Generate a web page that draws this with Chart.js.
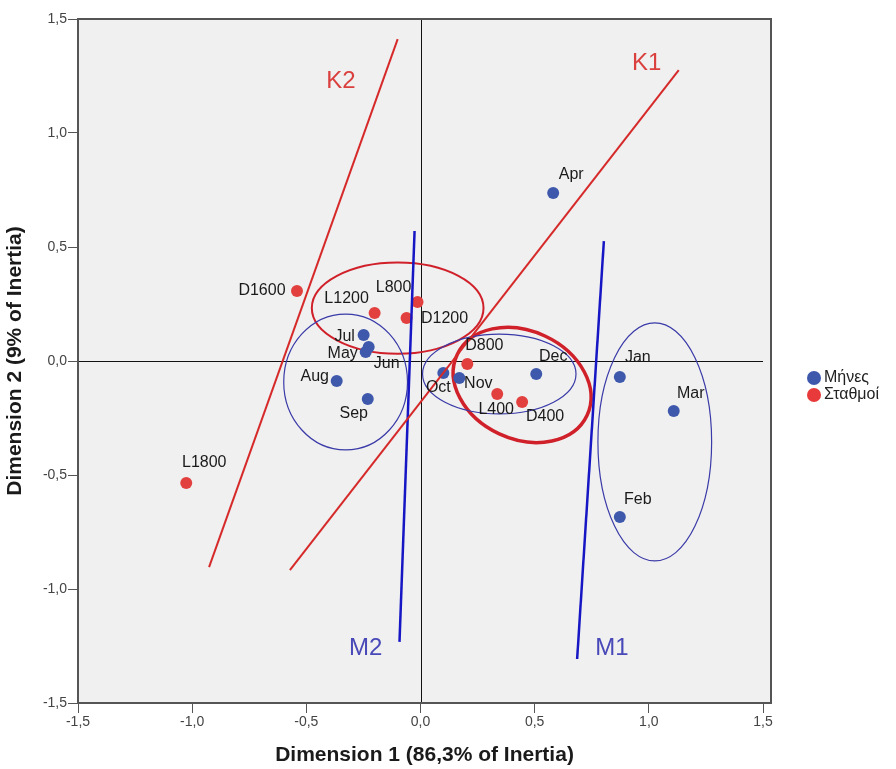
<!DOCTYPE html>
<html>
<head>
<meta charset="utf-8">
<script src="https://cdn.jsdelivr.net/npm/chart.js@4.4.1/dist/chart.umd.min.js"></script>
<style>
  html, body { margin: 0; padding: 0; background: #fff; }
  canvas { display: block; }
</style>
</head>
<body>
<canvas id="caChart" width="896" height="769"></canvas>
<script>
// Months (blue points)
const monthNames = ['Apr', 'Jan', 'Mar', 'Feb', 'Dec', 'Nov', 'Oct', 'Jul', 'Jun', 'May', 'Aug', 'Sep'];
const monthX = [0.581, 0.873, 1.109, 0.873, 0.507, 0.170, 0.100, -0.249, -0.227, -0.240, -0.367, -0.231];
const monthY = [0.737, -0.070, -0.219, -0.684, -0.057, -0.075, -0.053, 0.114, 0.061, 0.039, -0.088, -0.167];

// Stations (red points)
const stationNames = ['D1600', 'L1200', 'L800', 'D1200', 'D800', 'L400', 'D400', 'L1800'];
const stationX = [-0.541, -0.201, -0.013, -0.061, 0.205, 0.336, 0.445, -1.026];
const stationY = [0.307, 0.211, 0.259, 0.189, -0.013, -0.145, -0.180, -0.535];

// Hand drawn lines K1, K2, M1, M2 (start and end)
const lineNames = ['K1', 'K2', 'M1', 'M2'];
const lineX = [[-0.572, 1.131], [-0.926, -0.100], [0.686, 0.803], [-0.092, -0.026]];
const lineY = [[-0.917, 1.276], [-0.904, 1.412], [-1.307, 0.526], [-1.232, 0.570]];
const lineLabelX = [0.991, -0.349, 0.838, -0.240];
const lineLabelY = [1.307, 1.228, -1.259, -1.259];

// Ellipses: centre, semi-axes, tilt (degrees)
const ellipseCX = [-0.100, 0.445, -0.328, 0.345, 1.026];
const ellipseCY = [0.232, -0.105, -0.092, -0.057, -0.355];
const ellipseRX = [0.376, 0.314, 0.271, 0.336, 0.249];
const ellipseRY = [0.200, 0.237, 0.298, 0.175, 0.522];
const ellipseTilt = [0, 25, 0, 0, 0];

// Axis ticks
const tickValues = [-1.5, -1.0, -0.5, 0.0, 0.5, 1.0, 1.5];
const tickLabels = ['-1,5', '-1,0', '-0,5', '0,0', '0,5', '1,0', '1,5'];

// styling (not data)
const BLUE = '#3e58ac';
const RED = '#e2403e';
const FONT = '"Liberation Sans", Arial, sans-serif';
const monthOffsets = [[18, -18], [18, -19], [17, -17], [18, -17], [17, -17], [19, 5], [-5, 15], [-19, 2], [18, 17], [-23, 1], [-22, -4], [-14, 15]];
const stationOffsets = [[-35, 0], [-28, -14], [-24, -14], [38, 1], [17, -18], [-1, 16], [23, 15], [18, -20]];
const lineColors = ['#d62a2a', '#d62a2a', '#1616c4', '#1616c4'];
const lineLabelColors = ['#d9403e', '#d9403e', '#4848b8', '#4848b8'];
const ellipseColors = ['#d0202a', '#d0202a', '#3a3aa8', '#3a3aa8', '#3a3aa8'];
const ellipseWidths = [2, 3.5, 1.2, 1.2, 1.2];

const toPoints = (xs, ys) => xs.map((x, i) => ({ x: x, y: ys[i] }));

const lineDatasets = lineNames.map((name, i) => ({
    type: 'line',
    label: name,
    data: toPoints(lineX[i], lineY[i]),
    borderColor: lineColors[i],
    borderWidth: i < 2 ? 2 : 2.5,
    pointRadius: 0,
    showLine: true,
    fill: false
}));

const pointDatasets = [
    {
        label: 'Μήνες',
        data: toPoints(monthX, monthY),
        backgroundColor: BLUE,
        borderWidth: 0,
        pointRadius: 6,
        names: monthNames,
        offsets: monthOffsets
    },
    {
        label: 'Σταθμοί',
        data: toPoints(stationX, stationY),
        backgroundColor: RED,
        borderWidth: 0,
        pointRadius: 6,
        names: stationNames,
        offsets: stationOffsets
    }
];

// background, zero lines and ellipses
const plotDecor = {
    id: 'plotDecor',
    beforeDatasetsDraw(chart) {
        const { ctx, chartArea: a, scales: { x, y } } = chart;
        ctx.save();
        ctx.fillStyle = '#f0f0f0';
        ctx.fillRect(a.left, a.top, a.right - a.left, a.bottom - a.top);

        ctx.strokeStyle = '#111';
        ctx.lineWidth = 1;
        ctx.beginPath();
        const x0 = Math.round(x.getPixelForValue(0)) + 0.5;
        const y0 = Math.round(y.getPixelForValue(0)) + 0.5;
        ctx.moveTo(x0, a.top);
        ctx.lineTo(x0, a.bottom);
        ctx.moveTo(a.left, y0);
        ctx.lineTo(x.getPixelForValue(1.5), y0);
        ctx.stroke();

        ctx.beginPath();
        ctx.rect(a.left, a.top, a.right - a.left, a.bottom - a.top);
        ctx.clip();
        ellipseCX.forEach((cx, i) => {
            const px = x.getPixelForValue(cx);
            const py = y.getPixelForValue(ellipseCY[i]);
            const rx = x.getPixelForValue(ellipseRX[i]) - x.getPixelForValue(0);
            const ry = y.getPixelForValue(0) - y.getPixelForValue(ellipseRY[i]);
            ctx.beginPath();
            ctx.ellipse(px, py, rx, ry, ellipseTilt[i] * Math.PI / 180, 0, Math.PI * 2);
            ctx.strokeStyle = ellipseColors[i];
            ctx.lineWidth = ellipseWidths[i];
            ctx.stroke();
        });
        ctx.restore();
    },
    afterDatasetsDraw(chart) {
        const { ctx, chartArea: a, scales: { x, y } } = chart;
        ctx.save();
        // point labels
        ctx.font = '16px ' + FONT;
        ctx.fillStyle = '#1a1a1a';
        ctx.textAlign = 'center';
        ctx.textBaseline = 'middle';
        chart.data.datasets.forEach((ds, di) => {
            if (!ds.names) return;
            chart.getDatasetMeta(di).data.forEach((el, i) => {
                ctx.fillText(ds.names[i], el.x + ds.offsets[i][0], el.y + ds.offsets[i][1]);
            });
        });
        // K / M labels
        ctx.font = '24px ' + FONT;
        lineNames.forEach((name, i) => {
            ctx.fillStyle = lineLabelColors[i];
            ctx.fillText(name, x.getPixelForValue(lineLabelX[i]), y.getPixelForValue(lineLabelY[i]));
        });
        // frame
        ctx.strokeStyle = '#555';
        ctx.lineWidth = 2;
        ctx.strokeRect(a.left, a.top, a.right - a.left, a.bottom - a.top);

        // legend
        ctx.textAlign = 'left';
        ctx.font = '16px ' + FONT;
        pointDatasets.forEach((ds, i) => {
            const cy = 378 + i * 17;
            ctx.beginPath();
            ctx.arc(814, cy, 7, 0, Math.PI * 2);
            ctx.fillStyle = i === 0 ? BLUE : '#e83a3a';
            ctx.fill();
            ctx.fillStyle = '#222';
            ctx.fillText(ds.label, 824, cy);
        });
        ctx.restore();
    }
};

const axisCommon = {
    type: 'linear',
    afterBuildTicks: scale => { scale.ticks = tickValues.map(v => ({ value: v })); },
    ticks: {
        callback: v => tickLabels[tickValues.indexOf(v)],
        color: '#444',
        font: { family: FONT, size: 14 },
        autoSkip: false,
        maxRotation: 0
    },
    grid: { drawOnChartArea: false, tickLength: 10, color: '#555', tickWidth: 1 },
    border: { display: true, color: '#555', width: 2 }
};

new Chart(document.getElementById('caChart'), {
    type: 'scatter',
    data: { datasets: [...lineDatasets, ...pointDatasets] },
    options: {
        responsive: false,
        animation: false,
        devicePixelRatio: 1,
        layout: { padding: { top: 19, right: 125, left: 0, bottom: 0 } },
        events: [],
        plugins: {
            legend: { display: false },
            tooltip: { enabled: false }
        },
        scales: {
            x: {
                ...axisCommon,
                min: -1.5,
                max: 1.535,
                ticks: { ...axisCommon.ticks, padding: 1 },
                afterFit: scale => { scale.height = 66; },
                title: {
                    display: true,
                    text: 'Dimension 1 (86,3% of Inertia)',
                    color: '#1a1a1a',
                    font: { family: FONT, size: 21, weight: 'bold' },
                    padding: { top: 0, bottom: 1 }
                }
            },
            y: {
                ...axisCommon,
                min: -1.5,
                max: 1.5,
                ticks: { ...axisCommon.ticks, padding: 1 },
                afterFit: scale => { scale.width = 78; },
                title: {
                    display: true,
                    text: 'Dimension 2 (9% of Inertia)',
                    color: '#1a1a1a',
                    font: { family: FONT, size: 21, weight: 'bold' },
                    padding: { top: 3, bottom: 0 }
                }
            }
        }
    },
    plugins: [plotDecor]
});
</script>
</body>
</html>
